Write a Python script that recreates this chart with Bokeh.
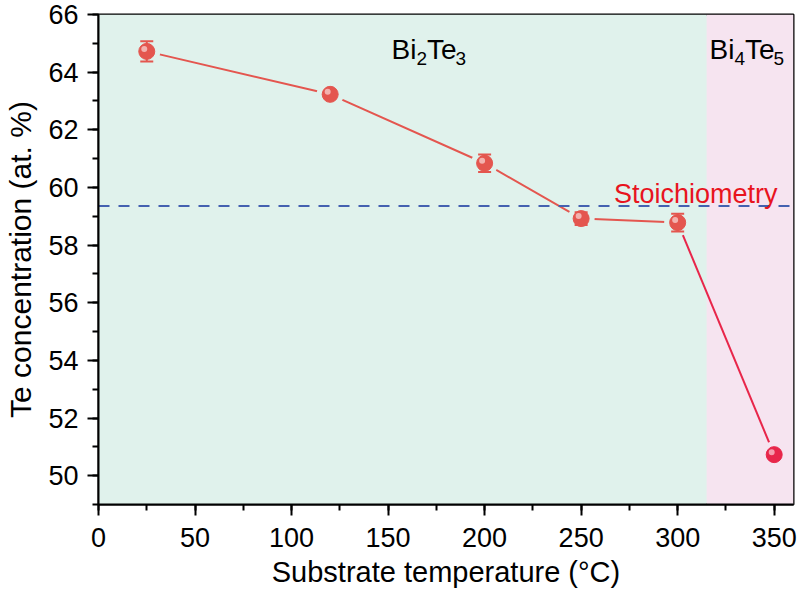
from bokeh.plotting import figure
from bokeh.models import Range1d, SingleIntervalTicker, BoxAnnotation, ColumnDataSource
from bokeh.core.properties import value
from bokeh.embed import file_html
from bokeh.resources import INLINE

# Te content of the films vs substrate temperature
temperature = [25, 120, 200, 250, 300, 350]
te_conc = [64.72, 63.23, 60.84, 58.92, 58.78, 50.73]
te_err = [0.35, 0.12, 0.30, 0.22, 0.31, 0.10]

stoichiometry = 59.36      # Te at. % of the stoichiometric composition
phase_boundary = 315       # Bi2Te3 / Bi4Te5 transition temperature

x_ticks_interval = 50
y_ticks_interval = 2

FONT = "Liberation Sans"
GREEN_BG = "#e0f2ec"
PINK_BG = "#f6e4f0"
RED = "#e4564f"
CRIMSON = "#e8264a"

X0, X1 = 0, 360
Y0, Y1 = 49, 66
FRAME_W, FRAME_H = 695, 490

p = figure(width=800, height=593, output_backend="svg", toolbar_location=None,
           x_range=Range1d(X0, X1), y_range=Range1d(Y0, Y1),
           min_border_left=98, min_border_right=7, min_border_top=14, min_border_bottom=89)
p.background_fill_color = GREEN_BG
p.border_fill_color = "white"
p.outline_line_color = "black"
p.outline_line_width = 2
p.xgrid.visible = False
p.ygrid.visible = False

# phase regions
p.add_layout(BoxAnnotation(right=phase_boundary, fill_color=GREEN_BG, fill_alpha=1, line_alpha=0, level="underlay"))
p.add_layout(BoxAnnotation(left=phase_boundary, fill_color=PINK_BG, fill_alpha=1, line_alpha=0, level="underlay"))

# axes
for ax in (p.xaxis[0], p.yaxis[0]):
    ax.axis_line_width = 2
    ax.major_tick_line_width = 2
    ax.minor_tick_line_width = 2
    ax.major_tick_in = 0
    ax.major_tick_out = 11
    ax.minor_tick_in = 0
    ax.minor_tick_out = 6
    ax.major_label_text_font = FONT
    ax.major_label_text_font_size = "27px"
    ax.major_label_text_color = "black"
    ax.axis_label_text_font = FONT
    ax.axis_label_text_font_style = "normal"
    ax.axis_label_text_color = "black"

p.xaxis.ticker = SingleIntervalTicker(interval=x_ticks_interval, num_minor_ticks=2)
p.yaxis.ticker = SingleIntervalTicker(interval=y_ticks_interval, num_minor_ticks=2)
p.xaxis.axis_label = "Substrate temperature (°C)"
p.yaxis.axis_label = "Te concentration (at. %)"
p.xaxis.axis_label_text_font_size = "29px"
p.yaxis.axis_label_text_font_size = "30px"
p.xaxis.major_label_standoff = 12
p.xaxis.axis_label_standoff = 6
p.yaxis.major_label_standoff = 9
p.yaxis.axis_label_standoff = 8

# pixel -> data conversion for small offsets
ux = (X1 - X0) / FRAME_W
uy = (Y1 - Y0) / FRAME_H

in_pink = [t > phase_boundary for t in temperature]
marker_colors = [CRIMSON if k else RED for k in in_pink]
halo_colors = [PINK_BG if k else GREEN_BG for k in in_pink]

src = ColumnDataSource(dict(
    x=temperature, y=te_conc,
    upper=[v + e for v, e in zip(te_conc, te_err)],
    lower=[v - e for v, e in zip(te_conc, te_err)],
    mc=marker_colors, hc=halo_colors,
    hx=[t - 2.5 * ux for t in temperature],
    hy=[v + 2.5 * uy for v in te_conc],
))

# connecting line (last segment in crimson)
p.line(temperature[:-1], te_conc[:-1], line_color=RED, line_width=2)
p.line(temperature[-2:], te_conc[-2:], line_color=CRIMSON, line_width=2)

# gap between line and symbols
p.scatter("x", "y", source=src, size=27, fill_color="hc", line_alpha=0)

# stoichiometric composition
p.line([X0, X1], [stoichiometry, stoichiometry], line_color="#4461b0",
       line_width=2, line_dash="11 9")

# error bars
p.segment(x0="x", y0="lower", x1="x", y1="upper", source=src, line_color="mc", line_width=2)
p.scatter("x", "upper", source=src, marker="dash", size=13, line_color="mc", line_width=2)
p.scatter("x", "lower", source=src, marker="dash", size=13, line_color="mc", line_width=2)

# spherical symbols
p.scatter("x", "y", source=src, size=16, fill_color="mc", line_color="mc", line_width=1)
p.scatter("hx", "hy", source=src, size=6, fill_color="white", fill_alpha=0.55, line_alpha=0)

# annotations
p.text(x=[267], y=[59.78], text=["Stoichiometry"], text_color="#e8141e",
       text_font=value(FONT), text_font_size="27px", text_baseline="alphabetic",
       text_align="left")


def formula(x, y, parts):
    """Draw a chemical formula: list of (text, is_subscript)."""
    widths = {"Bi": 0.889, "Te": 1.02}
    offset = 0.0
    for txt, sub in parts:
        size = 19 if sub else 28
        p.text(x=[x], y=[y], text=[txt], x_offset=offset, y_offset=9 if sub else 0,
               text_color="black", text_font=value(FONT), text_font_size=f"{size}px",
               text_baseline="alphabetic", text_align="left")
        offset += widths.get(txt, 0.556) * size


formula(151.8, 64.78, [("Bi", False), ("2", True), ("Te", False), ("3", True)])
formula(316.5, 64.78, [("Bi", False), ("4", True), ("Te", False), ("5", True)])

open("out.html", "w").write(file_html(p, INLINE))
